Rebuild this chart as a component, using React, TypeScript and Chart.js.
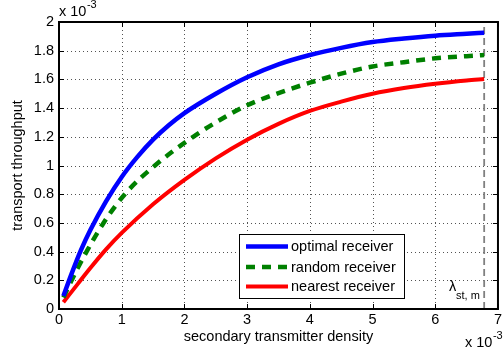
import React, { useEffect, useRef } from 'react';
import { Chart, registerables } from 'chart.js';

Chart.register(...registerables);

// ---- data (densities and throughputs in units of 10^-3) ----
const optimalDensity = [0.07, 0.2, 0.35, 0.5, 0.75, 1.0, 1.25, 1.5, 1.75, 2.0, 2.5, 3.0, 3.5, 4.0, 4.5, 5.0, 5.5, 6.0, 6.5, 6.78];
const optimalThroughput = [0.09, 0.245, 0.41, 0.55, 0.75, 0.92, 1.06, 1.18, 1.28, 1.365, 1.5, 1.615, 1.705, 1.77, 1.82, 1.86, 1.885, 1.905, 1.918, 1.925];

const randomDensity = [0.07, 0.19, 0.31, 0.44, 0.71, 1.05, 1.53, 2.14, 2.5, 3.0, 3.5, 4.0, 4.5, 5.0, 5.5, 6.0, 6.5, 6.78];
const randomThroughput = [0.08, 0.19, 0.295, 0.4, 0.6, 0.8, 1.0, 1.2, 1.3, 1.42, 1.505, 1.577, 1.64, 1.69, 1.72, 1.747, 1.762, 1.77];

const nearestDensity = [0.07, 0.3, 0.5, 0.75, 1.0, 1.5, 2.0, 2.5, 3.0, 3.5, 4.0, 4.5, 5.0, 5.5, 6.0, 6.5, 6.78];
const nearestThroughput = [0.047, 0.175, 0.285, 0.415, 0.53, 0.73, 0.9, 1.05, 1.18, 1.29, 1.38, 1.445, 1.5, 1.54, 1.57, 1.593, 1.603];

const markerDensity = [6.78, 6.78];
const markerThroughput = [0, 2];

const seriesLabels = ['optimal receiver', 'random receiver', 'nearest receiver'];
const xTickValues = [0, 1, 2, 3, 4, 5, 6, 7];
const yTickValues = [0, 0.2, 0.4, 0.6, 0.8, 1, 1.2, 1.4, 1.6, 1.8, 2];

const xTitle = 'secondary transmitter density';
const yTitle = 'transport throughput';
const markerLabel = 'λ';
const markerSub = 'st, m';

const FONT = '"Liberation Sans", Arial, Helvetica, sans-serif';
const FS = 14.5;

const toPoints = (xs: number[], ys: number[]) => xs.map((x, i) => ({ x, y: ys[i] }));

const drawExp = (ctx: CanvasRenderingContext2D, x: number, y: number) => {
  ctx.font = `${FS}px ${FONT}`;
  ctx.textAlign = 'left';
  ctx.textBaseline = 'middle';
  ctx.fillStyle = '#000';
  const base = 'x 10';
  ctx.fillText(base, x, y);
  const w = ctx.measureText(base).width;
  ctx.font = `11px ${FONT}`;
  ctx.fillText('-3', x + w + 0.5, y - 7);
};

const overlay = {
  id: 'matlabOverlay',
  beforeDatasetsDraw(chart: any) {
    const { ctx, chartArea: a, scales } = chart;
    const xs = scales.x;
    const ys = scales.y;
    ctx.save();
    ctx.strokeStyle = 'rgba(40,40,40,0.8)';
    ctx.lineWidth = 1;
    ctx.setLineDash([1, 3]);
    xTickValues.forEach((v) => {
      const px = Math.round(xs.getPixelForValue(v)) + 0.5;
      if (px <= a.left + 1 || px >= a.right - 1) return;
      ctx.beginPath();
      ctx.moveTo(px, a.top);
      ctx.lineTo(px, a.bottom);
      ctx.stroke();
    });
    yTickValues.forEach((v) => {
      const py = Math.round(ys.getPixelForValue(v)) + 0.5;
      if (py <= a.top + 1 || py >= a.bottom - 1) return;
      ctx.beginPath();
      ctx.moveTo(a.left, py);
      ctx.lineTo(a.right, py);
      ctx.stroke();
    });
    ctx.restore();
  },
  afterDraw(chart: any) {
    const { ctx, chartArea: a, scales } = chart;
    const xs = scales.x;
    const ys = scales.y;
    ctx.save();
    // inward tick marks
    ctx.strokeStyle = '#000';
    ctx.lineWidth = 1;
    ctx.setLineDash([]);
    const tl = 5;
    xTickValues.forEach((v) => {
      const px = Math.round(xs.getPixelForValue(v)) + 0.5;
      ctx.beginPath();
      ctx.moveTo(px, a.bottom);
      ctx.lineTo(px, a.bottom - tl);
      ctx.moveTo(px, a.top);
      ctx.lineTo(px, a.top + tl);
      ctx.stroke();
    });
    yTickValues.forEach((v) => {
      const py = Math.round(ys.getPixelForValue(v)) + 0.5;
      ctx.beginPath();
      ctx.moveTo(a.left, py);
      ctx.lineTo(a.left + tl, py);
      ctx.moveTo(a.right, py);
      ctx.lineTo(a.right - tl, py);
      ctx.stroke();
    });
    // box
    ctx.lineWidth = 2;
    ctx.strokeRect(a.left, a.top, a.right - a.left, a.bottom - a.top);

    // exponent labels
    drawExp(ctx, a.left, 12);
    drawExp(ctx, 465, 343);

    // marker label
    ctx.fillStyle = '#000';
    ctx.textAlign = 'left';
    ctx.textBaseline = 'middle';
    ctx.font = `${FS}px ${FONT}`;
    ctx.fillText(markerLabel, 449, 287);
    ctx.font = `11px ${FONT}`;
    ctx.fillText(markerSub, 456, 296);

    // legend
    const lx = 239.5, ly = 234.5, lw = 165, lh = 64;
    ctx.fillStyle = '#fff';
    ctx.fillRect(lx, ly, lw, lh);
    ctx.strokeStyle = '#000';
    ctx.lineWidth = 1;
    ctx.strokeRect(lx, ly, lw, lh);
    const rows = [246.5, 267, 286.5];
    chart.data.datasets.slice(0, 3).forEach((ds: any, i: number) => {
      ctx.strokeStyle = ds.borderColor;
      ctx.lineWidth = ds.borderWidth;
      ctx.setLineDash(ds.borderDash || []);
      ctx.beginPath();
      ctx.moveTo(246, rows[i]);
      ctx.lineTo(288, rows[i]);
      ctx.stroke();
      ctx.setLineDash([]);
      ctx.fillStyle = '#000';
      ctx.font = `${FS}px ${FONT}`;
      ctx.fillText(ds.label, 291, rows[i] + 0.5);
    });
    ctx.restore();
  },
};

export default function App() {
  const canvasRef = useRef<HTMLCanvasElement | null>(null);

  useEffect(() => {
    if (!canvasRef.current) return;
    Chart.defaults.font.family = FONT;
    Chart.defaults.color = '#000';
    const chart = new Chart(canvasRef.current, {
      type: 'line',
      data: {
        datasets: [
          {
            label: seriesLabels[0],
            data: toPoints(optimalDensity, optimalThroughput),
            borderColor: '#0000ff',
            borderWidth: 4.5,
            pointRadius: 0,
            cubicInterpolationMode: 'monotone',
            fill: false,
          },
          {
            label: seriesLabels[1],
            data: toPoints(randomDensity, randomThroughput),
            borderColor: '#008000',
            borderWidth: 4.5,
            borderDash: [9, 7],
            pointRadius: 0,
            cubicInterpolationMode: 'monotone',
            fill: false,
          },
          {
            label: seriesLabels[2],
            data: toPoints(nearestDensity, nearestThroughput),
            borderColor: '#ff0000',
            borderWidth: 4,
            pointRadius: 0,
            cubicInterpolationMode: 'monotone',
            fill: false,
          },
          {
            label: 'marker',
            data: toPoints(markerDensity, markerThroughput),
            borderColor: '#808080',
            borderWidth: 1.8,
            borderDash: [7, 4],
            pointRadius: 0,
            fill: false,
          },
        ],
      },
      options: {
        responsive: false,
        animation: false,
        devicePixelRatio: 1,
        layout: { padding: { left: 0, right: 6, top: 22, bottom: 0 } },
        plugins: {
          legend: { display: false },
          tooltip: { enabled: false },
        },
        scales: {
          x: {
            type: 'linear',
            min: 0,
            max: 7,
            afterFit: (s: any) => { s.height = 45; },
            afterBuildTicks: (s: any) => { s.ticks = xTickValues.map((v) => ({ value: v })); },
            ticks: {
              font: { size: FS, family: FONT },
              color: '#000',
              padding: 2,
              maxRotation: 0,
              callback: (v: any) => String(v),
            },
            grid: { display: false, drawTicks: false },
            border: { display: false },
            title: {
              display: true,
              text: xTitle,
              font: { size: FS, family: FONT },
              color: '#000',
              padding: { top: 0, bottom: 8 },
            },
          },
          y: {
            type: 'linear',
            min: 0,
            max: 2,
            afterFit: (s: any) => { s.width = 59; },
            afterBuildTicks: (s: any) => { s.ticks = yTickValues.map((v) => ({ value: v })); },
            ticks: {
              font: { size: FS, family: FONT },
              color: '#000',
              padding: 5,
              callback: (v: any) => String(Math.round(v * 10) / 10),
            },
            grid: { display: false, drawTicks: false },
            border: { display: false },
            title: {
              display: true,
              text: yTitle,
              font: { size: FS, family: FONT },
              color: '#000',
              padding: { top: 9, bottom: 0 },
            },
          },
        },
      },
      plugins: [overlay],
    } as any);
    return () => chart.destroy();
  }, []);

  return (
    <div style={{ position: 'fixed', left: 0, top: 0, width: 504, height: 354, background: '#fff' }}>
      <canvas ref={canvasRef} width={504} height={354} style={{ width: 504, height: 354, display: 'block' }} />
    </div>
  );
}
